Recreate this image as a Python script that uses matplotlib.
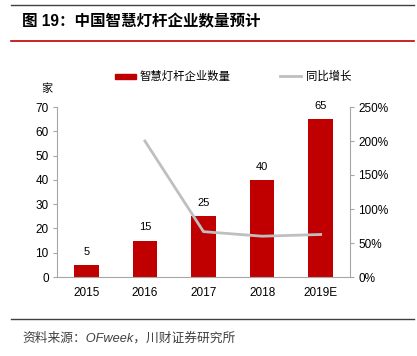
import matplotlib
matplotlib.use("Agg")
import matplotlib.pyplot as plt
from matplotlib.lines import Line2D
from matplotlib.patches import Rectangle

plt.rcParams['font.family'] = ['Liberation Sans', 'Noto Sans CJK SC', 'DejaVu Sans']

years = ["2015", "2016", "2017", "2018", "2019E"]
counts = [5, 15, 25, 40, 65]
growth_years = ["2016", "2017", "2018", "2019E"]
growth = [200.0, 66.7, 60.0, 62.5]

title = "图 19：中国智慧灯杆企业数量预计"
source = "资料来源：OFweek，川财证券研究所"
bar_label = "智慧灯杆企业数量"
line_label = "同比增长"
unit = "家"

RED = "#C00000"
GRAY = "#BFBFBF"
AX = "#A6A6A6"

W, H = 417, 356
fig = plt.figure(figsize=(W / 100, H / 100), dpi=100)

def fx(px): return px / W
def fy(py): return 1 - py / H

# decoration lines
fig.add_artist(Line2D([fx(11), fx(414)], [fy(5), fy(5)], color="#404040", lw=1.0))
fig.add_artist(Line2D([fx(11), fx(414)], [fy(41), fy(41)], color=RED, lw=1.2))
fig.add_artist(Line2D([fx(11), fx(414)], [fy(319), fy(319)], color="#404040", lw=1.0))

fig.text(fx(22), fy(22), title, fontsize=11.2, fontweight="bold", va="center", ha="left",
         family=['Liberation Sans', 'Noto Sans CJK SC'], color="#000000")
fig.text(fx(22), fy(338), source, fontsize=9.2, style="italic", va="center", ha="left",
         family=['Liberation Sans', 'Noto Sans CJK SC'], color="#404040")

left, right, bottom, top = 57, 350, 277, 107
ax = fig.add_axes([fx(left), fy(bottom), fx(right) - fx(left), fy(top) - fy(bottom)])
x = list(range(len(years)))
ax.bar(x, counts, width=0.42, color=RED, zorder=2)
for xi, v in zip(x, counts):
    ax.annotate(str(v), (xi, v), xytext=(0, 6), textcoords="offset points",
                ha="center", va="bottom", fontsize=8, color="#000000")
ax.set_xlim(-0.5, len(years) - 0.5)
ax.set_ylim(0, 70)
ax.set_yticks(range(0, 71, 10))
ax.set_xticks(x)
ax.set_xticklabels(years)
for s in ["top", "right"]:
    ax.spines[s].set_visible(False)
for s in ["left", "bottom"]:
    ax.spines[s].set_color(AX)
    ax.spines[s].set_linewidth(0.8)
ax.tick_params(axis="y", length=3, color=AX, labelsize=8.5, pad=3, direction="out")
ax.tick_params(axis="x", length=0, labelsize=8.5, pad=7)

ax2 = ax.twinx()
gx = [years.index(g) for g in growth_years]
ax2.plot(gx, growth, color=GRAY, lw=2.0, zorder=3)
ax2.set_ylim(0, 250)
ax2.set_yticks(range(0, 251, 50))
ax2.set_yticklabels([f"{v}%" for v in range(0, 251, 50)])
for s in ["top", "left", "bottom"]:
    ax2.spines[s].set_visible(False)
ax2.spines["right"].set_color(AX)
ax2.spines["right"].set_linewidth(0.8)
ax2.tick_params(axis="y", length=3, color=AX, labelsize=8.5, pad=3, direction="out")

# legend
fig.add_artist(Rectangle((fx(115), fy(79)), fx(136) - fx(115), fy(74) - fy(79), color=RED))
fig.text(fx(140), fy(76), bar_label, fontsize=8.2, va="center", ha="left",
         family=['Noto Sans CJK SC'])
fig.add_artist(Line2D([fx(280), fx(301)], [fy(76), fy(76)], color=GRAY, lw=2.0))
fig.text(fx(306), fy(76), line_label, fontsize=8.2, va="center", ha="left",
         family=['Noto Sans CJK SC'])
fig.text(fx(47), fy(89), unit, fontsize=8, va="center", ha="center",
         family=['Noto Sans CJK SC'])

fig.savefig("out.png", dpi=100)
